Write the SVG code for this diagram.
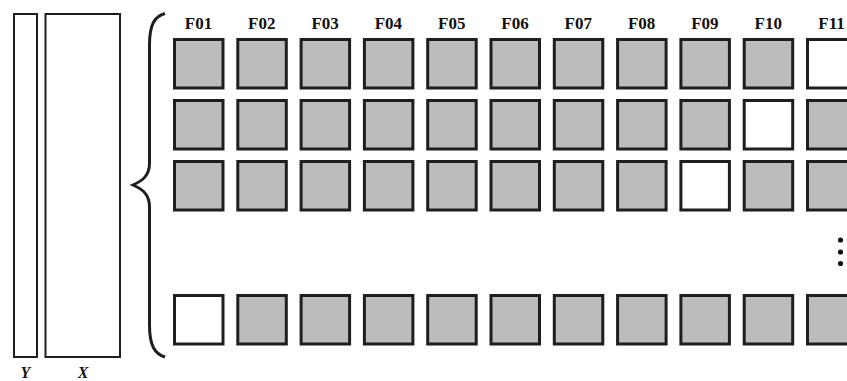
<svg xmlns="http://www.w3.org/2000/svg" width="847" height="381" viewBox="0 0 847 381">
<style>
.sq{fill:#bbbcbe;stroke:#1e1e1e;stroke-width:3}
.wh{fill:#ffffff;stroke:#1e1e1e;stroke-width:3}
.lab{font-family:"Liberation Serif",serif;font-weight:bold;font-size:17px;fill:#111;text-anchor:middle}
.ax{font-family:"Liberation Serif",serif;font-weight:bold;font-style:italic;font-size:16px;fill:#111;text-anchor:middle}
.col{fill:#fff;stroke:#1e1e1e;stroke-width:2}
</style>
<rect width="847" height="381" fill="#fff"/>
<g id="Y"><rect class="col" x="14" y="14" width="23" height="343"/><text class="ax" x="25.5" y="378">Y</text></g>
<g id="X"><rect class="col" x="45.5" y="14" width="74.5" height="343"/><text class="ax" x="83" y="378">X</text></g>
<g id="connectors">
<path d="M165,13.5 C155,16 149.5,24 149.5,45 L149.5,163 C149.5,176 142,181 133,185 C142,189 149.5,194 149.5,207 L149.5,325 C149.5,346 155,354 165,357" fill="none" stroke="#1e1e1e" stroke-width="3"/>
</g>
<g id="labels">
<text class="lab" x="198.5" y="29">F01</text>
<text class="lab" x="261.8" y="29">F02</text>
<text class="lab" x="325.1" y="29">F03</text>
<text class="lab" x="388.4" y="29">F04</text>
<text class="lab" x="451.7" y="29">F05</text>
<text class="lab" x="515" y="29">F06</text>
<text class="lab" x="578.3" y="29">F07</text>
<text class="lab" x="641.6" y="29">F08</text>
<text class="lab" x="704.9" y="29">F09</text>
<text class="lab" x="768.2" y="29">F10</text>
<text class="lab" x="831.5" y="29">F11</text>
</g>
<g id="row1">
<rect class="sq" x="174.5" y="39.5" width="48.5" height="48.5"/>
<rect class="sq" x="237.8" y="39.5" width="48.5" height="48.5"/>
<rect class="sq" x="301.1" y="39.5" width="48.5" height="48.5"/>
<rect class="sq" x="364.4" y="39.5" width="48.5" height="48.5"/>
<rect class="sq" x="427.7" y="39.5" width="48.5" height="48.5"/>
<rect class="sq" x="491" y="39.5" width="48.5" height="48.5"/>
<rect class="sq" x="554.3" y="39.5" width="48.5" height="48.5"/>
<rect class="sq" x="617.6" y="39.5" width="48.5" height="48.5"/>
<rect class="sq" x="680.9" y="39.5" width="48.5" height="48.5"/>
<rect class="sq" x="744.2" y="39.5" width="48.5" height="48.5"/>
<rect class="wh" x="807.5" y="39.5" width="48.5" height="48.5"/>
</g>
<g id="row2">
<rect class="sq" x="174.5" y="100.5" width="48.5" height="48.5"/>
<rect class="sq" x="237.8" y="100.5" width="48.5" height="48.5"/>
<rect class="sq" x="301.1" y="100.5" width="48.5" height="48.5"/>
<rect class="sq" x="364.4" y="100.5" width="48.5" height="48.5"/>
<rect class="sq" x="427.7" y="100.5" width="48.5" height="48.5"/>
<rect class="sq" x="491" y="100.5" width="48.5" height="48.5"/>
<rect class="sq" x="554.3" y="100.5" width="48.5" height="48.5"/>
<rect class="sq" x="617.6" y="100.5" width="48.5" height="48.5"/>
<rect class="sq" x="680.9" y="100.5" width="48.5" height="48.5"/>
<rect class="wh" x="744.2" y="100.5" width="48.5" height="48.5"/>
<rect class="sq" x="807.5" y="100.5" width="48.5" height="48.5"/>
</g>
<g id="row3">
<rect class="sq" x="174.5" y="161.5" width="48.5" height="48.5"/>
<rect class="sq" x="237.8" y="161.5" width="48.5" height="48.5"/>
<rect class="sq" x="301.1" y="161.5" width="48.5" height="48.5"/>
<rect class="sq" x="364.4" y="161.5" width="48.5" height="48.5"/>
<rect class="sq" x="427.7" y="161.5" width="48.5" height="48.5"/>
<rect class="sq" x="491" y="161.5" width="48.5" height="48.5"/>
<rect class="sq" x="554.3" y="161.5" width="48.5" height="48.5"/>
<rect class="sq" x="617.6" y="161.5" width="48.5" height="48.5"/>
<rect class="wh" x="680.9" y="161.5" width="48.5" height="48.5"/>
<rect class="sq" x="744.2" y="161.5" width="48.5" height="48.5"/>
<rect class="sq" x="807.5" y="161.5" width="48.5" height="48.5"/>
</g>
<g id="dots">
<circle cx="840.5" cy="240" r="2.6" fill="#111"/>
<circle cx="840.5" cy="252" r="2.6" fill="#111"/>
<circle cx="840.5" cy="263.5" r="2.6" fill="#111"/>
</g>
<g id="rowN">
<rect class="wh" x="174.5" y="295.5" width="48.5" height="48.5"/>
<rect class="sq" x="237.8" y="295.5" width="48.5" height="48.5"/>
<rect class="sq" x="301.1" y="295.5" width="48.5" height="48.5"/>
<rect class="sq" x="364.4" y="295.5" width="48.5" height="48.5"/>
<rect class="sq" x="427.7" y="295.5" width="48.5" height="48.5"/>
<rect class="sq" x="491" y="295.5" width="48.5" height="48.5"/>
<rect class="sq" x="554.3" y="295.5" width="48.5" height="48.5"/>
<rect class="sq" x="617.6" y="295.5" width="48.5" height="48.5"/>
<rect class="sq" x="680.9" y="295.5" width="48.5" height="48.5"/>
<rect class="sq" x="744.2" y="295.5" width="48.5" height="48.5"/>
<rect class="sq" x="807.5" y="295.5" width="48.5" height="48.5"/>
</g>
</svg>
